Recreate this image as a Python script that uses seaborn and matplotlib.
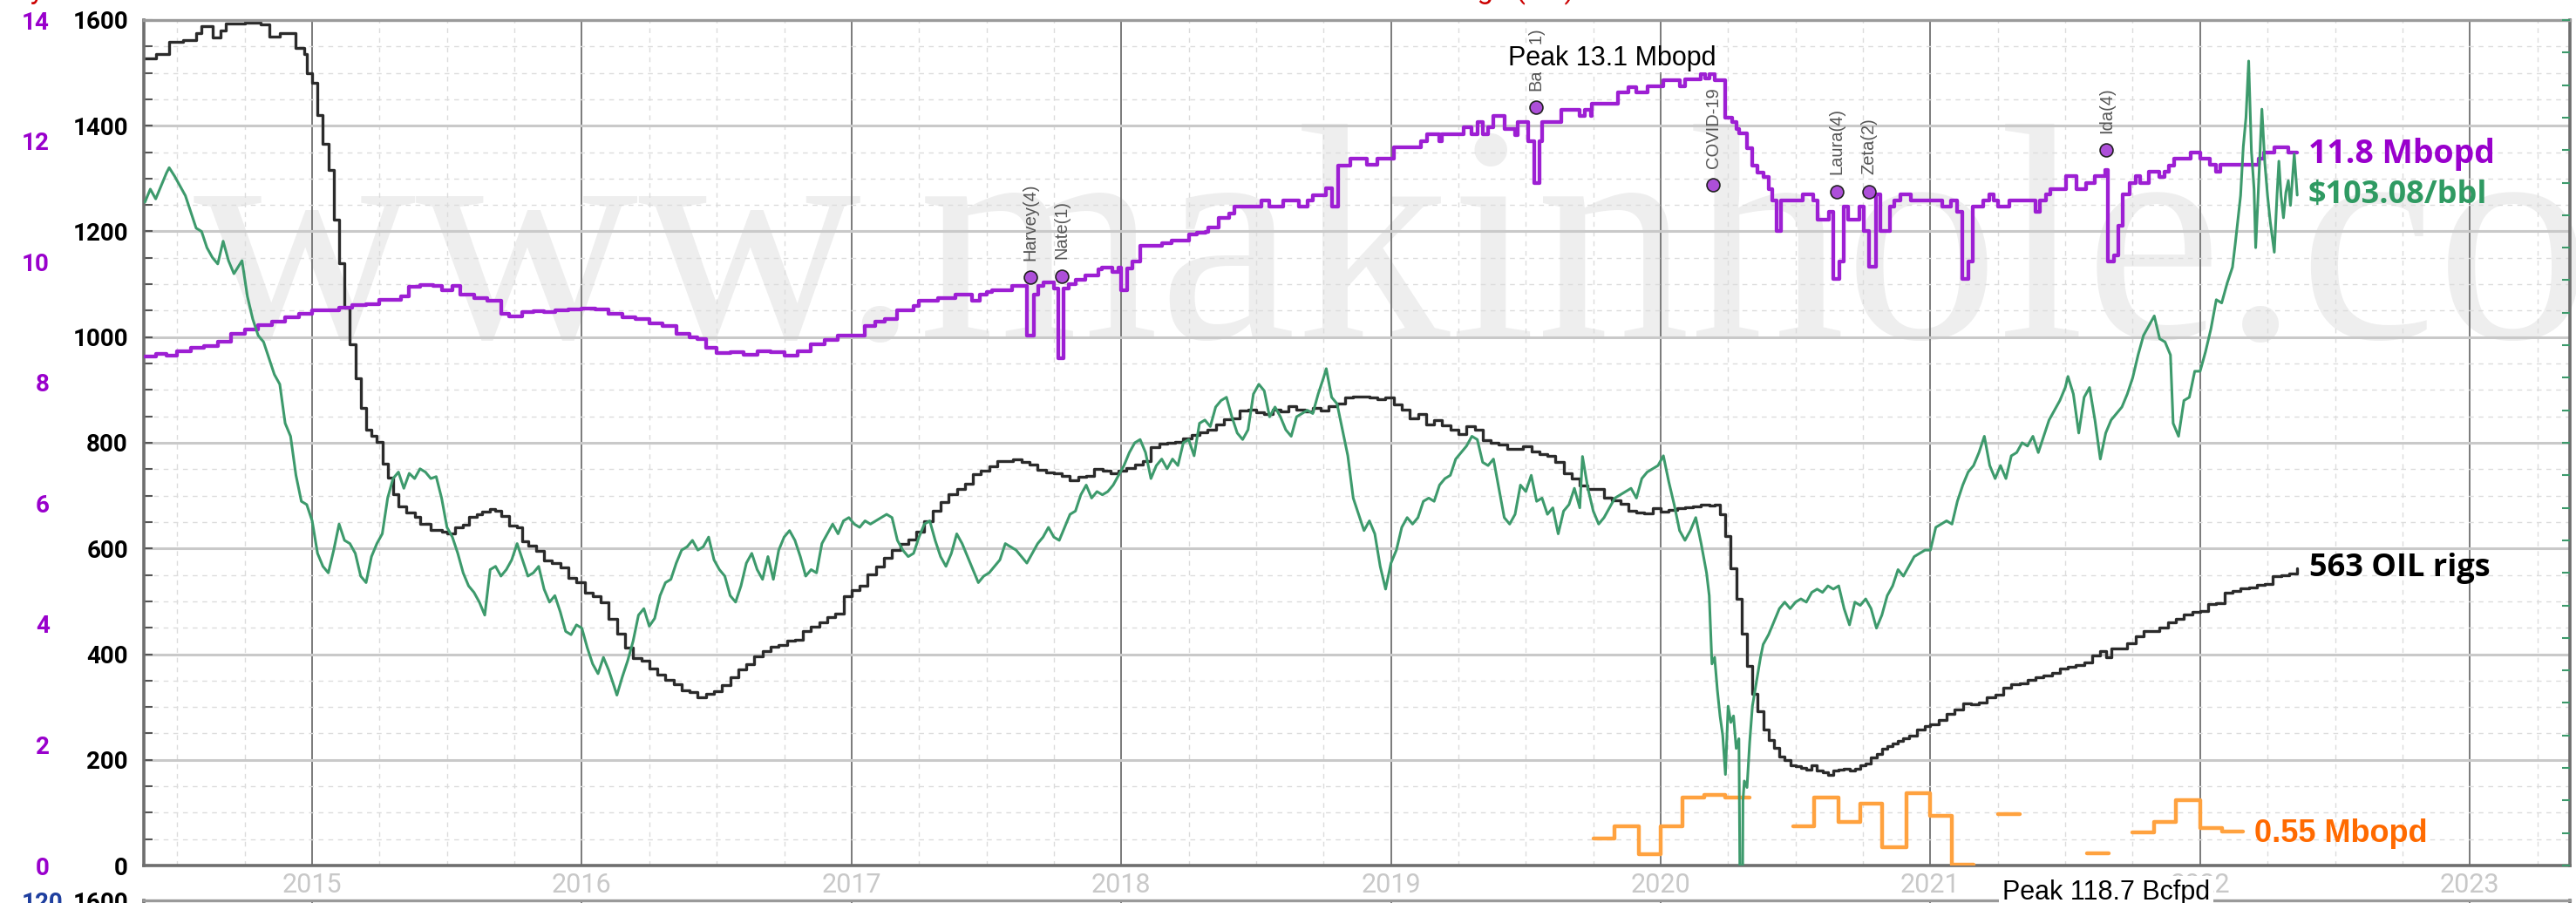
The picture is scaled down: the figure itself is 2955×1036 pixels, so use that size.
# Import libraries
import numpy as np
import pandas as pd
import matplotlib
matplotlib.use("Agg")
import matplotlib.pyplot as plt
import seaborn as sns
from matplotlib.ticker import MultipleLocator

# -----------------------------
# Chart values
# -----------------------------
year_ticks = [2015, 2016, 2017, 2018, 2019, 2020, 2021, 2022, 2023]
rig_ticks = [0, 200, 400, 600, 800, 1000, 1200, 1400, 1600]
prod_ticks = [0, 2, 4, 6, 8, 10, 12, 14]
price_ticks = [0, 5, 10, 15, 20, 25, 30, 35, 40, 45, 50, 55, 60, 65, 70, 75, 80,
               85, 90, 95, 100, 105, 110, 115, 120, 125, 130]

# US oil rig count (weekly steps)
rig_year = [2014.38, 2014.42, 2014.47, 2014.52, 2014.57, 2014.59, 2014.63, 2014.66, 2014.68, 2014.75,
            2014.81, 2014.84, 2014.88, 2014.93, 2014.94, 2014.97, 2014.98, 2015.00, 2015.02, 2015.04,
            2015.06, 2015.08, 2015.10, 2015.12, 2015.14, 2015.16, 2015.18, 2015.20, 2015.22, 2015.24,
            2015.26, 2015.28, 2015.30, 2015.32, 2015.35, 2015.38, 2015.40, 2015.44, 2015.48, 2015.50,
            2015.53, 2015.56, 2015.58, 2015.61, 2015.63, 2015.66, 2015.68, 2015.70, 2015.73, 2015.76,
            2015.78, 2015.80, 2015.83, 2015.86, 2015.89, 2015.92, 2015.95, 2015.98, 2016.01, 2016.04,
            2016.07, 2016.10, 2016.13, 2016.16, 2016.19, 2016.22, 2016.25, 2016.28, 2016.31, 2016.34,
            2016.37, 2016.40, 2016.43, 2016.46, 2016.49, 2016.52, 2016.55, 2016.58, 2016.61, 2016.64,
            2016.67, 2016.70, 2016.73, 2016.76, 2016.79, 2016.82, 2016.85, 2016.88, 2016.91, 2016.94,
            2016.97, 2017.00, 2017.03, 2017.06, 2017.09, 2017.12, 2017.15, 2017.18, 2017.21, 2017.24,
            2017.27, 2017.30, 2017.33, 2017.36, 2017.39, 2017.42, 2017.45, 2017.48, 2017.51, 2017.54,
            2017.57, 2017.60, 2017.63, 2017.66, 2017.69, 2017.72, 2017.75, 2017.78, 2017.81, 2017.84,
            2017.87, 2017.90, 2017.93, 2017.96, 2017.99, 2018.02, 2018.05, 2018.08, 2018.11, 2018.14,
            2018.17, 2018.20, 2018.23, 2018.26, 2018.29, 2018.32, 2018.35, 2018.38, 2018.41, 2018.44,
            2018.47, 2018.50, 2018.53, 2018.56, 2018.59, 2018.62, 2018.65, 2018.68, 2018.71, 2018.74,
            2018.77, 2018.80, 2018.83, 2018.86, 2018.89, 2018.92, 2018.95, 2018.98, 2019.01, 2019.04,
            2019.07, 2019.10, 2019.13, 2019.16, 2019.19, 2019.22, 2019.25, 2019.28, 2019.31, 2019.34,
            2019.37, 2019.40, 2019.43, 2019.46, 2019.49, 2019.52, 2019.55, 2019.58, 2019.61, 2019.64,
            2019.67, 2019.70, 2019.73, 2019.76, 2019.79, 2019.82, 2019.85, 2019.88, 2019.91, 2019.94,
            2019.97, 2020.00, 2020.03, 2020.06, 2020.09, 2020.12, 2020.15, 2020.18, 2020.20, 2020.22,
            2020.24, 2020.26, 2020.28, 2020.30, 2020.32, 2020.34, 2020.36, 2020.38, 2020.40, 2020.42,
            2020.44, 2020.46, 2020.48, 2020.50, 2020.52, 2020.54, 2020.56, 2020.58, 2020.60, 2020.62,
            2020.64, 2020.66, 2020.68, 2020.70, 2020.72, 2020.74, 2020.76, 2020.78, 2020.80, 2020.82,
            2020.84, 2020.86, 2020.88, 2020.90, 2020.92, 2020.95, 2020.98, 2021.00, 2021.03, 2021.06,
            2021.09, 2021.12, 2021.15, 2021.18, 2021.21, 2021.24, 2021.27, 2021.30, 2021.33, 2021.36,
            2021.39, 2021.42, 2021.45, 2021.48, 2021.51, 2021.54, 2021.57, 2021.60, 2021.63, 2021.65,
            2021.67, 2021.70, 2021.73, 2021.76, 2021.79, 2021.82, 2021.85, 2021.88, 2021.91, 2021.94,
            2021.97, 2022.00, 2022.03, 2022.06, 2022.09, 2022.12, 2022.15, 2022.18, 2022.21, 2022.24,
            2022.27, 2022.30, 2022.33, 2022.36]
oil_rigs = [1527, 1536, 1559, 1562, 1575, 1588, 1567, 1580, 1593, 1595,
            1592, 1569, 1575, 1575, 1547, 1536, 1499, 1482, 1421, 1366,
            1317, 1223, 1140, 1056, 986, 922, 866, 825, 813, 802,
            760, 734, 703, 679, 668, 660, 646, 635, 631, 628,
            640, 645, 659, 664, 670, 674, 672, 662, 644, 640,
            614, 605, 595, 578, 572, 564, 545, 536, 516, 510,
            498, 467, 439, 413, 392, 387, 372, 362, 351, 343,
            332, 328, 318, 325, 330, 341, 357, 371, 381, 396,
            406, 414, 418, 425, 428, 443, 452, 460, 470, 477,
            510, 522, 529, 551, 566, 583, 597, 609, 617, 631,
            652, 672, 688, 703, 712, 722, 741, 747, 756, 765,
            766, 768, 763, 759, 749, 744, 743, 737, 729, 736,
            738, 751, 747, 743, 747, 752, 759, 765, 791, 798,
            800, 802, 808, 815, 820, 825, 834, 844, 846, 861,
            862, 858, 855, 863, 859, 869, 862, 860, 866, 861,
            869, 874, 886, 888, 887, 885, 883, 885, 873, 862,
            847, 854, 834, 843, 833, 824, 816, 831, 825, 805,
            800, 797, 789, 788, 793, 784, 779, 776, 764, 742,
            733, 719, 713, 712, 696, 691, 684, 671, 668, 667,
            677, 670, 673, 676, 678, 679, 683, 682, 683, 664,
            624, 562, 504, 438, 378, 325, 292, 258, 237, 222,
            206, 199, 189, 188, 185, 181, 189, 180, 176, 172,
            180, 181, 183, 179, 183, 189, 193, 205, 211, 221,
            226, 231, 236, 241, 246, 258, 264, 267, 275, 287,
            295, 306, 305, 309, 318, 324, 337, 343, 344, 352,
            356, 359, 365, 373, 376, 380, 385, 397, 405, 394,
            410, 411, 421, 433, 443, 444, 450, 461, 467, 475,
            480, 481, 495, 497, 516, 519, 524, 527, 531, 533,
            548, 549, 552, 563]

# US crude production, Mbopd (weekly steps)
prod_year = [2014.38, 2014.42, 2014.46, 2014.50, 2014.55, 2014.60, 2014.65, 2014.70, 2014.75, 2014.80,
             2014.85, 2014.90, 2014.95, 2015.00, 2015.05, 2015.10, 2015.15, 2015.20, 2015.25, 2015.33,
             2015.36, 2015.40, 2015.45, 2015.48, 2015.52, 2015.55, 2015.60, 2015.65, 2015.70, 2015.73,
             2015.78, 2015.82, 2015.86, 2015.90, 2015.95, 2016.00, 2016.05, 2016.10, 2016.15, 2016.20,
             2016.25, 2016.30, 2016.35, 2016.40, 2016.43, 2016.46, 2016.50, 2016.55, 2016.60, 2016.65,
             2016.70, 2016.75, 2016.80, 2016.85, 2016.90, 2016.95, 2017.00, 2017.05, 2017.087, 2017.124,
             2017.168, 2017.23, 2017.248, 2017.322, 2017.384, 2017.446, 2017.477, 2017.502, 2017.52, 2017.594,
             2017.65, 2017.675, 2017.693, 2017.712, 2017.749, 2017.768, 2017.786, 2017.805, 2017.83, 2017.867,
             2017.916, 2017.928, 2017.966, 2017.99, 2018.00, 2018.021, 2018.04, 2018.07, 2018.151, 2018.188,
             2018.25, 2018.28, 2018.312, 2018.324, 2018.361, 2018.40, 2018.42, 2018.52, 2018.55, 2018.60,
             2018.66, 2018.69, 2018.71, 2018.76, 2018.78, 2018.805, 2018.85, 2018.91, 2018.95, 2019.01,
             2019.11, 2019.135, 2019.18, 2019.19, 2019.27, 2019.30, 2019.32, 2019.34, 2019.36, 2019.38,
             2019.42, 2019.46, 2019.47, 2019.51, 2019.53, 2019.55, 2019.56, 2019.63, 2019.70, 2019.72,
             2019.74, 2019.745, 2019.84, 2019.88, 2019.91, 2019.95, 2020.01, 2020.07, 2020.09, 2020.15,
             2020.165, 2020.18, 2020.20, 2020.24, 2020.265, 2020.28, 2020.29, 2020.32, 2020.34, 2020.36,
             2020.38, 2020.40, 2020.415, 2020.431, 2020.447, 2020.528, 2020.566, 2020.582, 2020.625, 2020.641,
             2020.663, 2020.679, 2020.695, 2020.738, 2020.754, 2020.772, 2020.797, 2020.813, 2020.851, 2020.867,
             2020.889, 2020.926, 2021.045, 2021.077, 2021.099, 2021.117, 2021.142, 2021.158, 2021.196, 2021.217,
             2021.233, 2021.250, 2021.293, 2021.390, 2021.406, 2021.428, 2021.444, 2021.503, 2021.541, 2021.578,
             2021.611, 2021.648, 2021.659, 2021.681, 2021.697, 2021.713, 2021.740, 2021.762, 2021.778, 2021.810,
             2021.848, 2021.869, 2021.885, 2021.902, 2021.909, 2021.966, 2022.000, 2022.035, 2022.058, 2022.075,
             2022.218, 2022.235, 2022.275, 2022.327, 2022.36]
crude_mbopd = [8.43, 8.47, 8.45, 8.52, 8.57, 8.60, 8.67, 8.80, 8.87, 8.95,
               9.00, 9.08, 9.13, 9.19, 9.20, 9.23, 9.28, 9.30, 9.37, 9.42,
               9.58, 9.61, 9.60, 9.53, 9.60, 9.46, 9.40, 9.35, 9.14, 9.10,
               9.16, 9.18, 9.17, 9.20, 9.21, 9.22, 9.21, 9.13, 9.08, 9.05,
               8.98, 8.94, 8.80, 8.74, 8.72, 8.57, 8.49, 8.50, 8.46, 8.52,
               8.50, 8.45, 8.52, 8.63, 8.70, 8.78, 8.77, 8.93, 9.00, 9.05,
               9.20, 9.26, 9.35, 9.40, 9.45, 9.35, 9.46, 9.50, 9.52, 9.60,
               8.77, 9.46, 9.60, 9.65, 9.56, 8.40, 9.56, 9.62, 9.70, 9.77,
               9.87, 9.90, 9.83, 9.90, 9.53, 9.88, 10.00, 10.26, 10.30, 10.35,
               10.45, 10.48, 10.50, 10.57, 10.72, 10.79, 10.91, 11.01, 10.91, 11.01,
               10.91, 11.01, 11.10, 11.21, 10.91, 11.59, 11.71, 11.60, 11.71, 11.90,
               12.00, 12.11, 12.00, 12.11, 12.22, 12.11, 12.31, 12.11, 12.22, 12.41,
               12.19, 12.09, 12.31, 12.00, 11.30, 12.00, 12.31, 12.51, 12.41, 12.51,
               12.41, 12.61, 12.80, 12.89, 12.80, 12.90, 13.01, 12.91, 13.02, 13.10,
               13.03, 13.10, 13.01, 12.38, 12.31, 12.20, 12.12, 11.88, 11.59, 11.47,
               11.40, 11.20, 11.01, 10.51, 11.01, 11.11, 11.01, 10.70, 10.82, 9.71,
               10.00, 10.91, 10.70, 10.91, 10.51, 9.91, 11.11, 10.51, 10.91, 11.01,
               11.11, 11.01, 10.91, 11.01, 10.82, 9.71, 10.00, 10.91, 11.01, 11.11,
               11.01, 10.91, 11.01, 10.82, 11.01, 11.11, 11.20, 11.42, 11.20, 11.30,
               11.42, 11.52, 10.00, 10.10, 10.60, 11.11, 11.30, 11.42, 11.30, 11.49,
               11.40, 11.49, 11.59, 11.71, 11.71, 11.81, 11.71, 11.61, 11.49, 11.60,
               11.71, 11.81, 11.90, 11.81, 11.81]

# WTI price, $/bbl
price_year = [2014.38, 2014.40, 2014.42, 2014.44, 2014.46, 2014.47, 2014.49, 2014.51, 2014.53, 2014.55,
              2014.57, 2014.59, 2014.61, 2014.63, 2014.65, 2014.67, 2014.69, 2014.71, 2014.74, 2014.76,
              2014.78, 2014.80, 2014.82, 2014.84, 2014.86, 2014.88, 2014.90, 2014.92, 2014.94, 2014.96,
              2014.98, 2015.00, 2015.02, 2015.04, 2015.06, 2015.08, 2015.10, 2015.12, 2015.14, 2015.16,
              2015.18, 2015.20, 2015.22, 2015.24, 2015.26, 2015.28, 2015.30, 2015.32, 2015.34, 2015.36,
              2015.38, 2015.40, 2015.42, 2015.44, 2015.46, 2015.48, 2015.50, 2015.52, 2015.54, 2015.56,
              2015.58, 2015.60, 2015.62, 2015.64, 2015.66, 2015.68, 2015.70, 2015.72, 2015.74, 2015.76,
              2015.78, 2015.80, 2015.82, 2015.84, 2015.86, 2015.88, 2015.90, 2015.92, 2015.94, 2015.96,
              2015.98, 2016.00, 2016.02, 2016.04, 2016.06, 2016.08, 2016.10, 2016.12, 2016.13, 2016.15,
              2016.17, 2016.19, 2016.21, 2016.23, 2016.25, 2016.27, 2016.29, 2016.31, 2016.33, 2016.35,
              2016.37, 2016.39, 2016.41, 2016.43, 2016.45, 2016.47, 2016.49, 2016.51, 2016.53, 2016.55,
              2016.57, 2016.59, 2016.61, 2016.63, 2016.65, 2016.67, 2016.69, 2016.71, 2016.73, 2016.75,
              2016.77, 2016.79, 2016.81, 2016.83, 2016.85, 2016.87, 2016.89, 2016.91, 2016.93, 2016.95,
              2016.97, 2016.99, 2017.01, 2017.03, 2017.05, 2017.07, 2017.09, 2017.11, 2017.13, 2017.15,
              2017.17, 2017.19, 2017.21, 2017.23, 2017.25, 2017.27, 2017.29, 2017.31, 2017.33, 2017.35,
              2017.37, 2017.39, 2017.41, 2017.43, 2017.45, 2017.47, 2017.49, 2017.51, 2017.53, 2017.55,
              2017.57, 2017.59, 2017.61, 2017.63, 2017.65, 2017.67, 2017.69, 2017.71, 2017.73, 2017.75,
              2017.77, 2017.79, 2017.81, 2017.83, 2017.85, 2017.87, 2017.89, 2017.91, 2017.93, 2017.95,
              2017.97, 2017.99, 2018.01, 2018.03, 2018.05, 2018.07, 2018.09, 2018.11, 2018.13, 2018.15,
              2018.17, 2018.19, 2018.21, 2018.23, 2018.25, 2018.27, 2018.29, 2018.31, 2018.33, 2018.35,
              2018.37, 2018.39, 2018.41, 2018.43, 2018.45, 2018.47, 2018.49, 2018.51, 2018.53, 2018.55,
              2018.57, 2018.59, 2018.61, 2018.63, 2018.65, 2018.67, 2018.69, 2018.71, 2018.73, 2018.75,
              2018.76, 2018.78, 2018.80, 2018.82, 2018.84, 2018.86, 2018.88, 2018.90, 2018.92, 2018.94,
              2018.96, 2018.98, 2019.00, 2019.02, 2019.04, 2019.06, 2019.08, 2019.10, 2019.12, 2019.14,
              2019.16, 2019.18, 2019.20, 2019.22, 2019.24, 2019.26, 2019.28, 2019.30, 2019.32, 2019.34,
              2019.36, 2019.38, 2019.40, 2019.42, 2019.44, 2019.46, 2019.48, 2019.50, 2019.52, 2019.54,
              2019.56, 2019.58, 2019.60, 2019.62, 2019.64, 2019.66, 2019.68, 2019.70, 2019.71, 2019.73,
              2019.75, 2019.77, 2019.79, 2019.81, 2019.83, 2019.85, 2019.87, 2019.89, 2019.91, 2019.93,
              2019.95, 2019.97, 2019.99, 2020.01, 2020.03, 2020.05, 2020.07, 2020.09, 2020.11, 2020.13,
              2020.15, 2020.17, 2020.18, 2020.19, 2020.20, 2020.21, 2020.22, 2020.23, 2020.24, 2020.25,
              2020.26, 2020.27, 2020.28, 2020.29, 2020.30, 2020.305, 2020.31, 2020.32, 2020.33, 2020.34,
              2020.35, 2020.36, 2020.37, 2020.38, 2020.40, 2020.42, 2020.44, 2020.46, 2020.48, 2020.50,
              2020.52, 2020.54, 2020.56, 2020.58, 2020.60, 2020.62, 2020.64, 2020.66, 2020.68, 2020.70,
              2020.72, 2020.74, 2020.76, 2020.78, 2020.80, 2020.82, 2020.84, 2020.86, 2020.88, 2020.90,
              2020.92, 2020.94, 2020.96, 2020.98, 2021.00, 2021.02, 2021.04, 2021.06, 2021.08, 2021.10,
              2021.12, 2021.14, 2021.16, 2021.18, 2021.20, 2021.22, 2021.24, 2021.26, 2021.28, 2021.30,
              2021.32, 2021.34, 2021.36, 2021.38, 2021.40, 2021.42, 2021.44, 2021.46, 2021.48, 2021.50,
              2021.51, 2021.53, 2021.55, 2021.57, 2021.59, 2021.61, 2021.63, 2021.65, 2021.67, 2021.69,
              2021.71, 2021.73, 2021.75, 2021.77, 2021.79, 2021.81, 2021.83, 2021.85, 2021.87, 2021.89,
              2021.90, 2021.92, 2021.94, 2021.96, 2021.98, 2022.00, 2022.02, 2022.04, 2022.06, 2022.08,
              2022.10, 2022.12, 2022.13, 2022.15, 2022.16, 2022.17, 2022.18, 2022.19, 2022.20, 2022.206,
              2022.215, 2022.229, 2022.24, 2022.25, 2022.26, 2022.275, 2022.285, 2022.292, 2022.30, 2022.309,
              2022.318, 2022.327, 2022.335, 2022.349, 2022.36]
wti_price = [102.0, 104.0, 102.5, 104.5, 106.5, 107.3, 106.0, 104.5, 103.0, 100.5,
             98.0, 97.5, 95.0, 93.5, 92.5, 96.0, 93.0, 91.0, 93.0, 87.5,
             84.0, 81.5, 80.5, 78.0, 75.5, 74.0, 68.0, 66.0, 60.0, 56.0,
             55.5, 53.0, 48.0, 46.0, 45.0, 48.5, 52.5, 50.0, 49.5, 48.0,
             44.5, 43.5, 47.5, 49.5, 51.0, 56.5, 59.5, 60.5, 58.0, 60.3,
             59.5, 61.0, 60.5, 59.5, 59.8, 56.5, 52.0, 50.5, 48.0, 45.0,
             43.0, 42.0, 40.5, 38.5, 45.5, 46.0, 44.5, 45.5, 47.0, 49.5,
             47.0, 44.5, 45.0, 46.0, 42.5, 40.5, 41.5, 39.0, 36.0, 35.5,
             37.0, 36.5, 33.5, 31.0, 29.5, 32.0, 30.0, 27.5, 26.2, 29.0,
             31.5, 34.5, 38.5, 39.5, 36.8, 38.0, 41.5, 43.5, 44.0, 46.5,
             48.5, 49.0, 50.0, 48.5, 49.0, 50.5, 47.0, 45.5, 44.5, 41.5,
             40.5, 43.0, 46.5, 48.0, 45.5, 44.0, 47.5, 44.0, 48.5, 50.5,
             51.5, 50.0, 47.5, 44.5, 45.5, 45.0, 49.5, 51.0, 52.5, 51.0,
             53.0, 53.5, 52.5, 52.0, 53.0, 52.5, 53.0, 53.5, 54.0, 53.5,
             50.0, 48.5, 47.5, 48.0, 50.5, 52.5, 53.0, 50.0, 47.5, 46.0,
             48.0, 51.0, 49.5, 47.5, 45.5, 43.5, 44.5, 45.0, 46.0, 47.0,
             49.5, 49.0, 48.5, 47.5, 46.5, 48.0, 49.5, 50.5, 52.0, 50.5,
             50.0, 52.0, 54.0, 54.5, 57.0, 58.5, 56.5, 57.5, 57.0, 57.5,
             58.5, 60.0, 61.5, 63.5, 65.0, 65.5, 63.5, 59.5, 61.5, 62.5,
             61.0, 62.5, 61.5, 65.0, 65.5, 63.0, 68.0, 68.5, 67.5, 70.5,
             71.5, 72.0, 69.0, 66.5, 65.5, 67.0, 72.5, 74.0, 73.0, 69.0,
             70.5, 69.0, 67.0, 66.0, 69.0, 69.5, 70.0, 69.5, 72.5, 75.0,
             76.4, 72.0, 71.0, 67.0, 63.0, 56.5, 54.0, 51.5, 53.0, 51.0,
             46.0, 42.5, 46.5, 48.5, 52.0, 53.5, 52.5, 53.5, 56.0, 56.5,
             56.0, 58.5, 59.5, 60.0, 62.5, 63.5, 64.5, 66.0, 65.5, 62.0,
             61.5, 62.5, 58.0, 53.5, 52.5, 54.0, 58.5, 57.5, 60.0, 56.0,
             56.5, 54.0, 55.0, 51.0, 54.5, 55.5, 58.0, 55.0, 62.9, 58.0,
             54.5, 52.5, 53.5, 55.0, 56.5, 57.0, 57.5, 58.0, 56.5, 59.5,
             60.5, 61.0, 61.5, 63.0, 59.0, 55.5, 51.5, 50.0, 51.5, 53.5,
             49.5, 45.0, 41.5, 31.0, 32.0, 27.0, 23.0, 20.0, 14.0, 24.5,
             22.0, 23.0, 18.0, 19.5, -37.0, 10.0, 13.0, 12.0, 19.0, 24.5,
             27.0, 29.5, 32.0, 34.0, 35.5, 37.5, 39.5, 40.5, 39.5, 40.5,
             41.0, 40.5, 42.0, 42.5, 42.0, 43.0, 42.5, 43.0, 39.5, 37.0,
             40.5, 40.0, 41.0, 39.5, 36.5, 38.5, 41.5, 43.0, 45.5, 44.5,
             46.0, 47.5, 48.0, 48.5, 48.5, 52.0, 52.5, 53.0, 52.5, 56.0,
             58.5, 60.5, 61.5, 63.5, 66.0, 61.5, 59.5, 61.5, 59.5, 63.0,
             63.5, 65.0, 64.5, 66.0, 63.5, 66.0, 68.5, 70.0, 71.5, 73.5,
             75.2, 72.5, 66.5, 72.0, 73.5, 68.5, 62.5, 66.5, 68.5, 69.5,
             70.5, 72.5, 75.0, 78.5, 81.5, 83.0, 84.5, 81.0, 80.5, 78.5,
             68.0, 66.0, 71.5, 72.0, 76.0, 76.0, 79.0, 82.5, 87.0, 86.5,
             89.5, 92.0, 95.5, 103.0, 110.5, 115.0, 123.7, 110.0, 104.0, 95.0,
             103.0, 116.3, 108.0, 103.0, 99.0, 94.3, 103.0, 108.3, 103.0, 99.6,
             103.5, 105.3, 101.5, 109.4, 103.08]

# Gulf shut-in series, Mbopd (monthly steps, nan closes a run)
gom_year = [2019.75, 2019.83, 2019.92, 2020.00, 2020.08, 2020.16, 2020.24, 2020.33,
            2020.49, 2020.57, 2020.66, 2020.74, 2020.82, 2020.91, 2021.00, 2021.08, 2021.16,
            2021.25, 2021.33,
            2021.58, 2021.66,
            2021.75, 2021.83, 2021.91, 2022.00, 2022.08, 2022.16]
gom_mbopd = [0.45, 0.65, 0.19, 0.65, 1.12, 1.17, 1.12, np.nan,
             0.65, 1.12, 0.72, 1.03, 0.30, 1.20, 0.82, 0.02, np.nan,
             0.85, np.nan,
             0.20, np.nan,
             0.55, 0.72, 1.08, 0.62, 0.56, np.nan]

# Production events
event_name = ["Harvey(4)", "Nate(1)", "Barry(1)", "COVID-19", "Laura(4)", "Zeta(2)", "Ida(4)"]
event_year = [2017.663, 2017.780, 2019.538, 2020.194, 2020.653, 2020.772, 2021.652]
event_level = [9.74, 9.76, 12.55, 11.27, 11.16, 11.16, 11.85]

# -----------------------------
# Figure
# -----------------------------
sns.set_theme(style="white")
plt.rcParams['font.family'] = ['Roboto', 'DejaVu Sans']

W, H = 2955, 1036
L, R, T, B = 165, 2948, 23, 993
fig = plt.figure(figsize=(W / 100, H / 100), dpi=100)
fig.patch.set_facecolor("white")

XMIN, XMAX = 2014.376, 2023.371
END_FONT = ["Open Sans", "DejaVu Sans"]

# lower panel, only its top edge shows
axb = fig.add_axes([L / W, -0.9, (R - L) / W, 0.9 + 3 / H])
axb.set_xlim(XMIN, XMAX)
axb.set_ylim(0, 1600)
axb.set_xticks(year_ticks)
axb.set_xticklabels([])
axb.grid(axis="x", color="#7a7a7a", lw=1.4)
axb.set_yticks([1600])
axb.set_yticklabels(["1600"], fontweight="bold", fontsize=20, color="black")
axb.tick_params(axis="y", length=0, pad=13)
axb.tick_params(axis="x", length=0)
for side in ["left", "bottom", "right"]:
    axb.spines[side].set_color("#6e6e6e")
    axb.spines[side].set_linewidth(2.6)
axb.spines["top"].set_color("#9a9a9a")
axb.spines["top"].set_linewidth(2.4)
axb2 = axb.twinx()
axb2.set_ylim(0, 120)
axb2.yaxis.tick_left()
axb2.set_yticks([120])
axb2.set_yticklabels(["120"], fontweight="bold", fontsize=20, color="#1f3f9f")
axb2.tick_params(axis="y", length=0, pad=67)
for s in axb2.spines.values():
    s.set_visible(False)

# main panel
ax = fig.add_axes([L / W, 1 - B / H, (R - L) / W, (B - T) / H])
ax.set_axisbelow(True)

sns.lineplot(x=rig_year, y=oil_rigs, ax=ax, color="#2b2b2b", lw=2.4,
             drawstyle="steps-post", legend=False)

ax.set_xlim(XMIN, XMAX)
ax.set_ylim(0, 1600)
ax.set_xticks(year_ticks)
ax.set_xticklabels([str(y) for y in year_ticks])
ax.xaxis.set_minor_locator(MultipleLocator(0.25))
ax.set_yticks(rig_ticks)
ax.set_yticklabels([str(v) for v in rig_ticks], fontweight="bold")
ax.yaxis.set_minor_locator(MultipleLocator(50))
ax.grid(which="major", axis="y", color="#c9c9c9", lw=2.2, ls="-")
ax.grid(which="major", axis="x", color="#7a7a7a", lw=1.4, ls="-")
ax.grid(which="minor", color="#dcdcdc", lw=1.0, ls=(0, (4, 4)))
ax.tick_params(axis="x", which="both", length=0, pad=6, labelsize=22, labelcolor="#c8c8c8")
ax.tick_params(axis="y", which="both", direction="in", length=7, width=1.5,
               color="#555555", pad=13, labelsize=20, labelcolor="black")
ax.set_xlabel("")
ax.set_ylabel("")
for side in ["left", "bottom", "right"]:
    ax.spines[side].set_color("#6e6e6e")
    ax.spines[side].set_linewidth(2.6)
ax.spines["top"].set_color("#9a9a9a")
ax.spines["top"].set_linewidth(2.4)

# watermark
ax.text(222 / W, 1 - 388 / H, "www.makinhole.com", transform=fig.transFigure,
        fontsize=255, family="Liberation Serif", color="#eeeeee",
        ha="left", va="baseline", zorder=0.1, clip_on=False)

ax.text(2022.405, 562, "563 OIL rigs", fontsize=26, fontweight="bold",
        family=END_FONT, color="black", ha="left", va="center")

# production axis (purple labels on the far left)
ax2 = ax.twinx()
sns.lineplot(x=prod_year, y=crude_mbopd, ax=ax2, color="#9d1fd3", lw=3.1,
             drawstyle="steps-post", legend=False)

breaks = [i for i, v in enumerate(gom_mbopd) if np.isnan(v)]
start = 0
for b in breaks:
    xs = gom_year[start:b + 1]
    ys = gom_mbopd[start:b] + [gom_mbopd[b - 1]]
    sns.lineplot(x=xs, y=ys, ax=ax2, color="#ffa23f", lw=3.2,
                 drawstyle="steps-post", legend=False)
    start = b + 1

sns.scatterplot(x=event_year, y=event_level, ax=ax2, color="#ad4fd9",
                edgecolor="#222222", linewidth=1.2, s=115, zorder=5, legend=False)
for name, yr, lvl in zip(event_name, event_year, event_level):
    ax2.annotate(name, (yr, lvl), xytext=(0, 14), textcoords="offset points",
                 rotation=90, ha="center", va="bottom", fontsize=14.5,
                 color="#555555", family="Liberation Sans", zorder=4)

ax2.text(2019.82, 13.36, "Peak 13.1 Mbopd", fontsize=22, family="Liberation Sans",
         color="black", ha="center", va="center", zorder=6,
         bbox=dict(fc="white", ec="none", pad=0.5))
ax2.text(2022.40, 11.78, "11.8 Mbopd", fontsize=27, fontweight="bold",
         family=END_FONT, color="#9900cc", ha="left", va="center")
ax2.text(2022.20, 0.52, "0.55 Mbopd", fontsize=26, fontweight="bold",
         family="Liberation Sans", color="#ff6a00", ha="left", va="center")

ax2.set_ylim(0, 14)
ax2.yaxis.tick_left()
ax2.set_yticks(prod_ticks)
ax2.set_yticklabels([str(v) for v in prod_ticks], fontweight="bold")
ax2.tick_params(axis="y", length=0, pad=78, labelsize=20, labelcolor="#9900cc")
ax2.set_ylabel("")
for s in ax2.spines.values():
    s.set_visible(False)

# price axis (green ticks on the right)
ax3 = ax.twinx()
sns.lineplot(x=price_year, y=wti_price, ax=ax3, color="#3d9a6c", lw=2.2, legend=False)
ax3.text(2022.40, 103.0, "$103.08/bbl", fontsize=26, fontweight="bold",
         family=END_FONT, color="#2f9a62", ha="left", va="center")
ax3.set_ylim(0, 130)
ax3.set_yticks(price_ticks)
ax3.tick_params(axis="y", direction="in", length=6.5, width=1.5, color="#3d9a6c",
                labelright=False)
ax3.set_ylabel("")
for s in ax3.spines.values():
    s.set_visible(False)
ax.set_xlim(XMIN, XMAX)

# cut-off red headings at the top edge and label of the lower panel
fig.text(50 / W, 1 + 2 / H, "Weekly", color="#cc0000", fontsize=24,
         ha="right", va="baseline")
fig.text(1806 / W, 1 + 2 / H, "US Crude Oil Production vs WTI Price and Oil Rigs (BH)",
         color="#cc0000", fontsize=24, ha="right", va="baseline")
fig.text(2416 / W, 4 / H, "Peak 118.7 Bcfpd", fontsize=22, family="Liberation Sans",
         color="black", ha="center", va="baseline",
         bbox=dict(fc="white", ec="none", pad=3))

fig.savefig("out.png", dpi=100)
